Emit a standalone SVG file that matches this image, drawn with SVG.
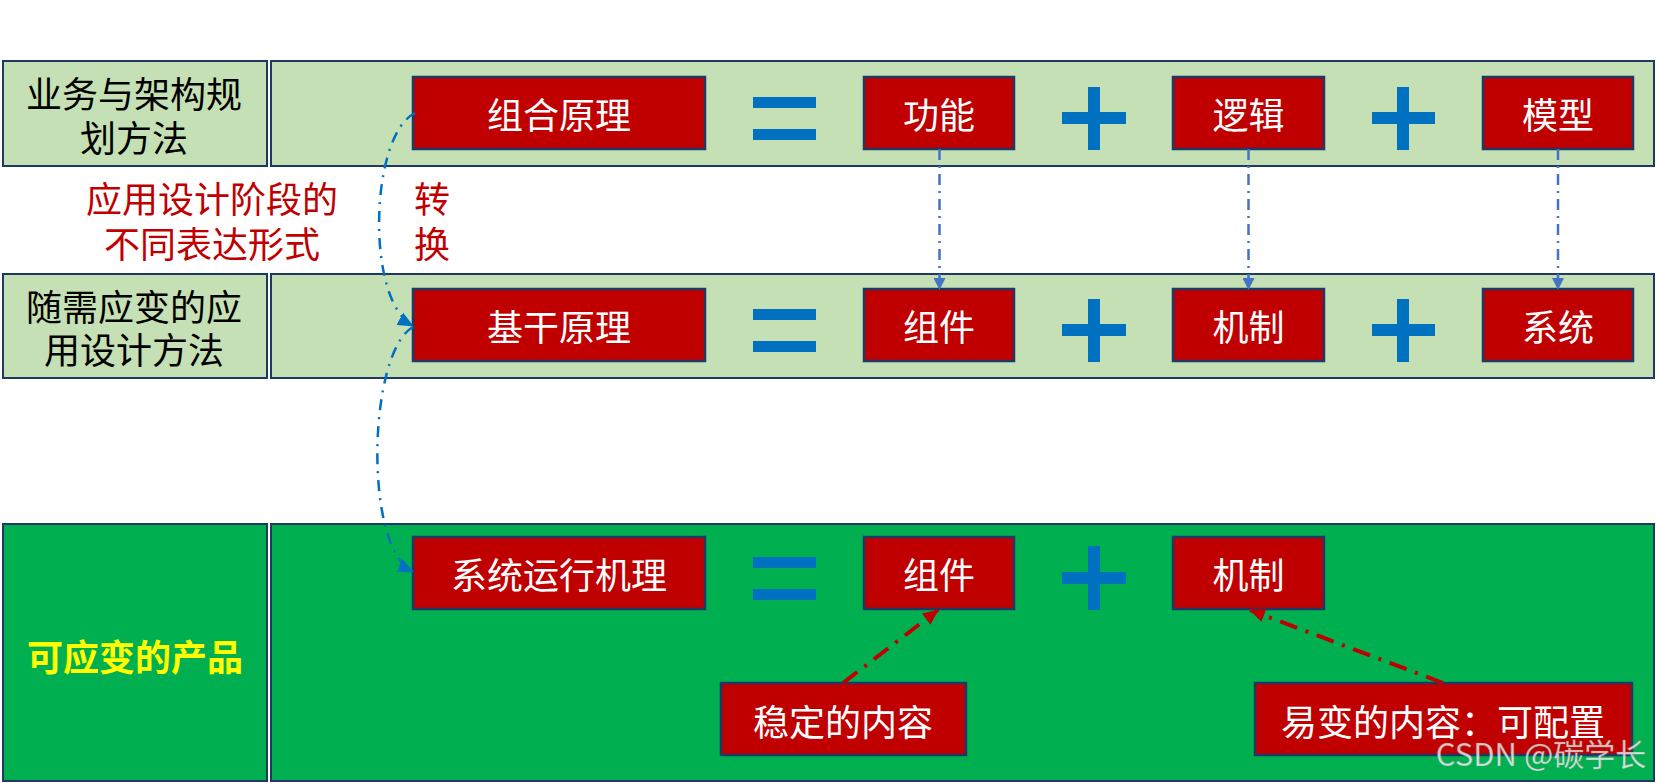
<svg xmlns="http://www.w3.org/2000/svg" width="1656" height="783" viewBox="0 0 1656 783">
<style>
.lg{fill:#C5E0B4;stroke:#1F3864;stroke-width:2}
.dg{fill:#00B050;stroke:#1F3864;stroke-width:2}
.rb{fill:#C00000;stroke:#1F3864;stroke-width:2.5}
.t{font-family:"Noto Sans CJK SC","Microsoft YaHei",sans-serif;font-size:36px;text-anchor:middle;dominant-baseline:central}
.w{fill:#FFFFFF}
.k{fill:#000000}
.r{fill:#C00000}
.y{fill:#FFFF00;font-weight:bold}
.op{fill:#0070C0}
.bv{fill:none;stroke:#4472C4;stroke-width:2.5;stroke-dasharray:11 6 2 6}
.bc{fill:none;stroke:#0070C0;stroke-width:2.5;stroke-dasharray:11 7 2 7}
.rc{fill:none;stroke:#C00000;stroke-width:4;stroke-dasharray:18 9 3 9}
</style>
<defs>
<marker id="ab" markerUnits="userSpaceOnUse" markerWidth="12" markerHeight="12" refX="11" refY="6" orient="auto"><path d="M0,0 L12,6 L0,12 z" fill="#4472C4"/></marker>
<marker id="ac" markerUnits="userSpaceOnUse" markerWidth="16" markerHeight="14" refX="15" refY="7" orient="auto"><path d="M0,0 L16,7 L0,14 z" fill="#0070C0"/></marker>
<marker id="ar" markerUnits="userSpaceOnUse" markerWidth="16" markerHeight="14" refX="15" refY="7" orient="auto"><path d="M0,0 L16,7 L0,14 z" fill="#C00000"/></marker>
</defs>
<rect width="1656" height="783" fill="#FFFFFF"/>

<g id="row1-label"><rect class="lg" x="3" y="61" width="264" height="105"/><text class="t k" x="134" y="92">业务与架构规<tspan x="134" dy="44">划方法</tspan></text></g>
<g id="row1-band"><rect class="lg" x="271" y="61" width="1383" height="105"/></g>
<g id="row2-label"><rect class="lg" x="3" y="274" width="264" height="104"/><text class="t k" x="134" y="305">随需应变的应<tspan x="134" dy="43">用设计方法</tspan></text></g>
<g id="row2-band"><rect class="lg" x="271" y="274" width="1383" height="104"/></g>
<g id="row3-label"><rect class="dg" x="3" y="524" width="264" height="257"/><text class="t y" x="135" y="655">可应变的产品</text></g>
<g id="row3-band"><rect class="dg" x="271" y="524" width="1383" height="257"/></g>

<g id="note"><text class="t r" x="212" y="197">应用设计阶段的<tspan x="212" dy="45">不同表达形式</tspan></text></g>
<g id="convert"><text class="t r" x="432" y="197">转<tspan x="432" dy="45">换</tspan></text></g>

<g id="n-zuhe"><rect class="rb" x="413" y="77" width="292" height="72"/><text class="t w" x="559" y="113">组合原理</text></g>
<g id="eq1"><rect class="op" x="753" y="97" width="63" height="11"/><rect class="op" x="753" y="129" width="63" height="11"/></g>
<g id="n-gongneng"><rect class="rb" x="864" y="77" width="150" height="72"/><text class="t w" x="939" y="113">功能</text></g>
<g id="plus1"><rect class="op" x="1062" y="112" width="64" height="12"/><rect class="op" x="1088" y="87" width="12" height="63"/></g>
<g id="n-luoji"><rect class="rb" x="1173" y="77" width="151" height="72"/><text class="t w" x="1248.5" y="113">逻辑</text></g>
<g id="plus2"><rect class="op" x="1372" y="112" width="63" height="12"/><rect class="op" x="1397" y="87" width="12" height="63"/></g>
<g id="n-moxing"><rect class="rb" x="1483" y="77" width="150" height="72"/><text class="t w" x="1558" y="113">模型</text></g>

<g id="n-jigan"><rect class="rb" x="413" y="289" width="292" height="72"/><text class="t w" x="559" y="325">基干原理</text></g>
<g id="eq2"><rect class="op" x="753" y="309" width="63" height="11"/><rect class="op" x="753" y="341" width="63" height="11"/></g>
<g id="n-zujian"><rect class="rb" x="864" y="289" width="150" height="72"/><text class="t w" x="939" y="325">组件</text></g>
<g id="plus3"><rect class="op" x="1062" y="324" width="64" height="12"/><rect class="op" x="1088" y="299" width="12" height="63"/></g>
<g id="n-jizhi"><rect class="rb" x="1173" y="289" width="151" height="72"/><text class="t w" x="1248.5" y="325">机制</text></g>
<g id="plus4"><rect class="op" x="1372" y="324" width="63" height="12"/><rect class="op" x="1397" y="299" width="12" height="63"/></g>
<g id="n-xitong"><rect class="rb" x="1483" y="289" width="150" height="72"/><text class="t w" x="1558" y="325">系统</text></g>

<g id="n-yunxing"><rect class="rb" x="413" y="537" width="292" height="72"/><text class="t w" x="559" y="573">系统运行机理</text></g>
<g id="eq3"><rect class="op" x="753" y="557" width="63" height="11"/><rect class="op" x="753" y="589" width="63" height="11"/></g>
<g id="n-zujian2"><rect class="rb" x="864" y="537" width="150" height="72"/><text class="t w" x="939" y="573">组件</text></g>
<g id="plus5"><rect class="op" x="1062" y="572" width="64" height="12"/><rect class="op" x="1088" y="546" width="12" height="64"/></g>
<g id="n-jizhi2"><rect class="rb" x="1173" y="537" width="151" height="72"/><text class="t w" x="1248.5" y="573">机制</text></g>

<g id="n-wending"><rect class="rb" x="721" y="683" width="245" height="72"/><text class="t w" x="843" y="720">稳定的内容</text></g>
<g id="n-yibian"><rect class="rb" x="1255" y="683" width="377" height="72"/><text class="t w" x="1443" y="720">易变的内容：可配置</text></g>

<g id="connectors">
<path class="bv" d="M939.5,149 L939.5,289" marker-end="url(#ab)"/>
<path class="bv" d="M1248.5,149 L1248.5,289" marker-end="url(#ab)"/>
<path class="bv" d="M1558,149 L1558,289" marker-end="url(#ab)"/>
<path class="bc" d="M415,113 C370,135 365,300 413,326" marker-end="url(#ac)"/>
<path class="bc" d="M413,327 C368,352 363,548 413,572" marker-end="url(#ac)"/>
<path class="rc" d="M843,683 L938,610" marker-end="url(#ar)"/>
<path class="rc" d="M1443,683 L1250,610" marker-end="url(#ar)"/>
</g>

<text x="1541" y="752" font-family="'Noto Sans CJK SC',sans-serif" font-size="31" text-anchor="middle" dominant-baseline="central" fill="#FFFFFF" fill-opacity="0.75" stroke="#7F7F7F" stroke-opacity="0.6" stroke-width="0.6">CSDN @碳学长</text>
</svg>
